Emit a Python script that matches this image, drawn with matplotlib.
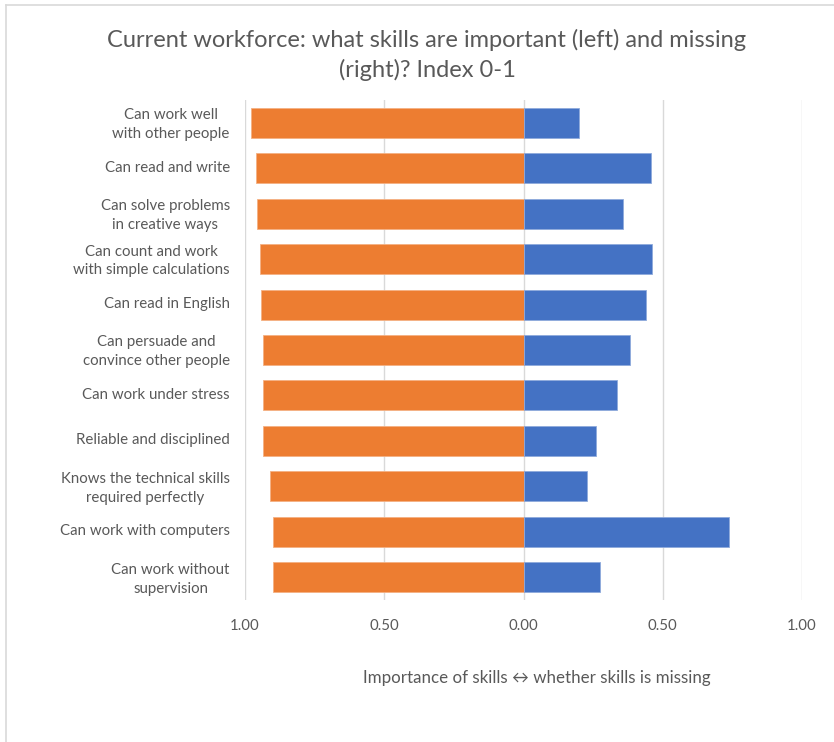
"""Butterfly bar chart: importance vs. shortage of workforce skills."""

import matplotlib.pyplot as plt
from matplotlib.lines import Line2D
from matplotlib.ticker import FuncFormatter
from matplotlib.transforms import ScaledTranslation


skills = [
    "Can work well\nwith other people",
    "Can read and write",
    "Can solve problems\nin creative ways",
    "Can count and work\nwith simple calculations",
    "Can read in English",
    "Can persuade and\nconvince other people",
    "Can work under stress",
    "Reliable and disciplined",
    "Knows the technical skills\nrequired perfectly",
    "Can work with computers",
    "Can work without\nsupervision",
]
importance = [0.978, 0.961, 0.957, 0.947, 0.943, 0.937, 0.934, 0.934, 0.909, 0.901, 0.901]
missing = [0.200, 0.458, 0.358, 0.463, 0.438, 0.383, 0.337, 0.261, 0.229, 0.737, 0.274]
x_ticks = [-1.0, -0.5, 0.0, 0.5, 1.0]

ORANGE = "#ED7D31"
BLUE = "#4472C4"
TEXT = "#595959"
GRID = "#D9D9D9"

plt.rcParams["font.family"] = ["Lato", "DejaVu Sans"]

fig = plt.figure(figsize=(8.34, 7.42), dpi=100)
ax = fig.add_axes([0.2938, 0.1914, 0.6679, 0.6739])

positions = list(range(len(skills)))
ax.barh(positions, [-v for v in importance], height=0.66, color=ORANGE,
        edgecolor="#F4B183", linewidth=0.6, zorder=3)
ax.barh(positions, missing, height=0.66, color=BLUE,
        edgecolor="#8FAADC", linewidth=0.6, zorder=3)

ax.set_xlim(-1, 1)
ax.set_ylim(len(skills) - 0.5, -0.5)
ax.set_xticks(x_ticks)
ax.xaxis.set_major_formatter(FuncFormatter(lambda v, _: f"{abs(v):.2f}"))
ax.set_yticks(positions)
ax.set_yticklabels(skills, ha="right", multialignment="center", linespacing=1.45)
ax.tick_params(axis="y", length=0, pad=11, labelsize=10.8, labelcolor=TEXT)
ax.tick_params(axis="x", length=0, pad=14, labelsize=10.8, labelcolor=TEXT)

# nudge the category labels up a touch
lift = ScaledTranslation(0, 2 / 100, fig.dpi_scale_trans)
for label in ax.get_yticklabels():
    label.set_transform(label.get_transform() + lift)

ax.grid(axis="x", color=GRID, linewidth=1, zorder=0)
for side in ax.spines.values():
    side.set_visible(False)

fig.text(0.644, 0.0863, "Importance of skills \u2194 whether skills is missing",
         ha="center", va="center", fontsize=12.2, color=TEXT)
fig.text(0.512, 0.926, "Current workforce: what skills are important (left) and missing\n(right)? Index 0-1",
         ha="center", va="center", fontsize=17, color=TEXT, linespacing=1.45)

# chart-area frame edges along the left and top
fig.add_artist(Line2D([0.0066, 0.0066], [0.0, 0.9926], transform=fig.transFigure,
                      color=GRID, linewidth=1.2))
fig.add_artist(Line2D([0.0066, 1.0], [0.9926, 0.9926], transform=fig.transFigure,
                      color=GRID, linewidth=1.2))

fig.savefig("out.png", dpi=100)
